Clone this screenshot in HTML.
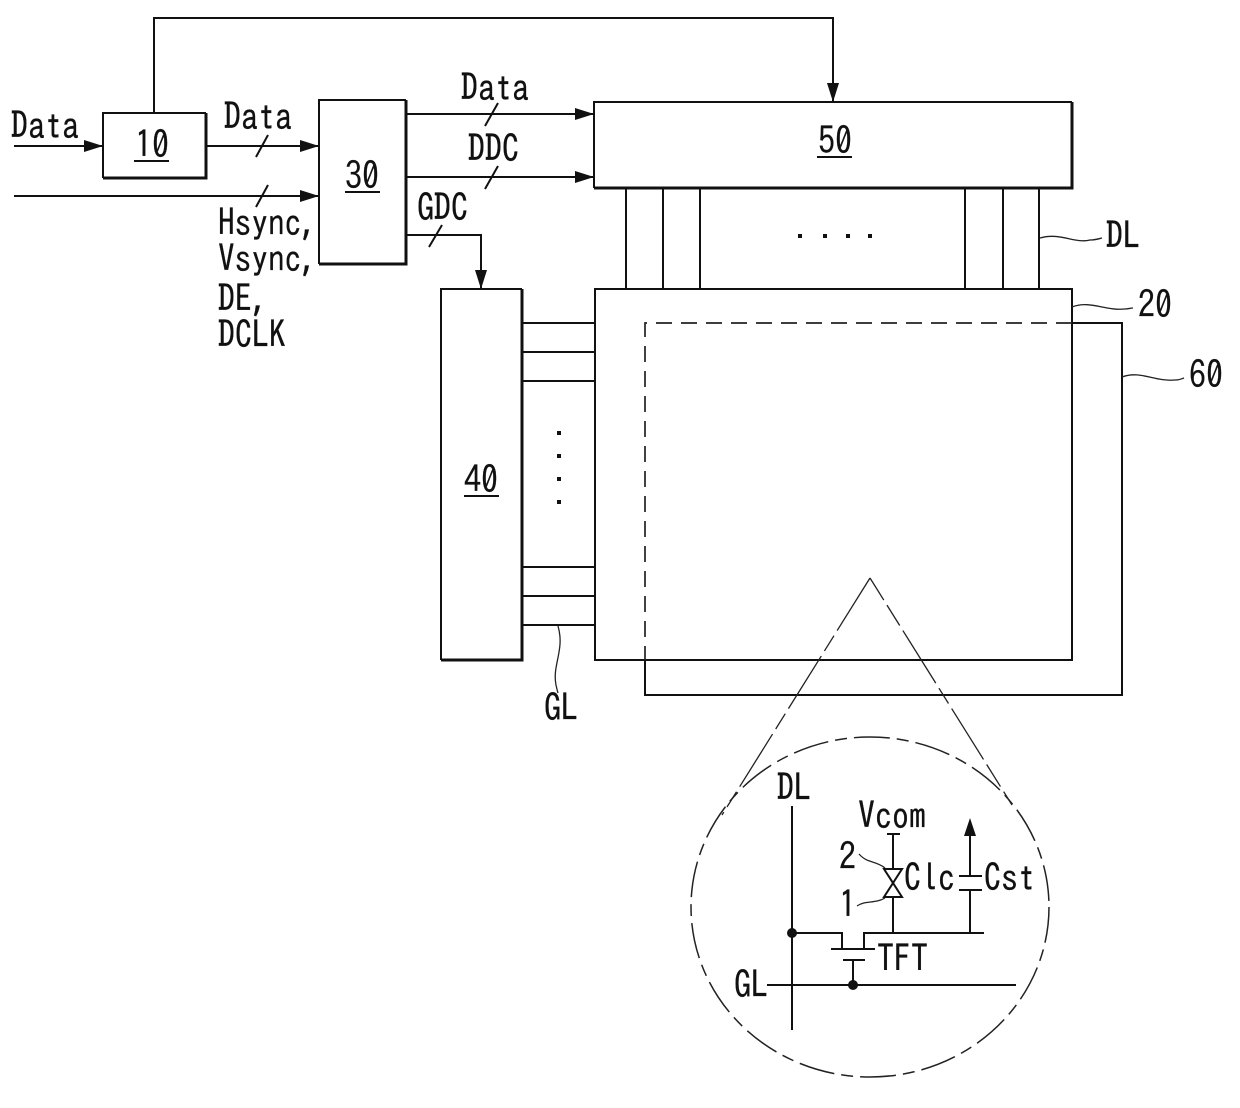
<!DOCTYPE html>
<html><head><meta charset="utf-8"><style>
html,body{margin:0;padding:0;background:#fff}
svg{display:block}
text{font-family:"IPAGothic","Liberation Sans",sans-serif;font-size:34px;fill:#111;stroke:#111;stroke-width:.2}
.l{fill:none;stroke:#111;stroke-width:2}
.d{fill:none;stroke:#222;stroke-width:1.7}
.t{fill:none;stroke:#111;stroke-width:3}
.c{fill:none;stroke:#222;stroke-width:1.3}
</style></head><body>
<svg width="1240" height="1108" viewBox="0 0 1240 1108">
<defs>
<marker id="a" markerUnits="userSpaceOnUse" markerWidth="20" markerHeight="12" refX="19" refY="6" orient="auto"><path d="M0 0L19 6L0 12Z" fill="#111"/></marker>
</defs>
<!-- boxes -->
<path class="l" d="M103 178V113H206"/><path class="t" d="M103 178H206V113"/>
<path class="l" d="M319 264V100H406"/><path class="t" d="M319 264H406V100"/>
<path class="l" d="M594 188V102H1072"/><path class="t" d="M594 188H1072V102"/>
<path class="l" d="M441 660V289H522"/><path class="t" d="M441 660H522V289"/>
<rect class="l" x="595" y="289" width="477" height="371"/>
<!-- 60 -->
<path class="l" d="M1072 323H1122V695H645V660"/>
<path class="d" stroke-dasharray="16 9" d="M1072 323H645V660"/>
<!-- top line -->
<path class="l" marker-end="url(#a)" d="M154 113V18H833V102"/>
<!-- signals -->
<path class="l" marker-end="url(#a)" d="M14 146H103"/>
<path class="l" marker-end="url(#a)" d="M206 146H319"/>
<path class="l" marker-end="url(#a)" d="M14 196H319"/>
<path class="l" marker-end="url(#a)" d="M406 114H594"/>
<path class="l" marker-end="url(#a)" d="M406 177H594"/>
<path class="l" marker-end="url(#a)" d="M406 235H481V289"/>
<path class="l" d="M256 157L268 135M256 207L268 185M485 126L498 103M485 189L498 166M429 247L442 225"/>
<!-- data lines -->
<path class="l" d="M626 188V289M663 188V289M700 188V289M965 188V289M1003 188V289M1039 188V289"/>
<!-- gate lines -->
<path class="l" d="M522 323H595M522 352H595M522 381H595M522 567H595M522 596H595M522 625H595"/>
<!-- dots -->
<g fill="#111">
<rect x="798" y="234" width="4" height="4"/><rect x="823" y="234" width="4" height="4"/><rect x="846" y="234" width="4" height="4"/><rect x="868" y="234" width="4" height="4"/>
<rect x="557" y="431" width="4" height="4"/><rect x="557" y="454" width="4" height="4"/><rect x="557" y="477" width="4" height="4"/><rect x="557" y="500" width="4" height="4"/>
</g>
<!-- leaders -->
<path class="c" d="M1040 238C1060 232 1075 244 1090 240C1095 240 1098 239 1102 238"/>
<path class="c" d="M1072 307C1090 300 1105 311 1125 309C1129 309 1130 308 1133 308"/>
<path class="c" d="M1122 377C1140 370 1155 382 1175 380C1180 380 1181 379 1184 378"/>
<path class="c" d="M558 626C565 650 552 665 556 685C557 689 557 690 558 693"/>
<!-- zoom triangle -->
<path class="c" stroke-dasharray="62 6 18 6" d="M870 578L722 815"/>
<path class="c" stroke-dasharray="26 6 24 6 62 6 18 6 60 6" d="M870 578L1012 805"/>
<!-- circle -->
<ellipse cx="870" cy="907" rx="179" ry="170" fill="none" stroke="#222" stroke-width="1.5" stroke-dasharray="36 7 12 7"/>
<!-- pixel -->
<path class="l" d="M792 806V1030M767 985H1016M792 933H842V949M831 949H875M864 949V933H984M843 960H865M853 960V985"/>
<path class="l" d="M893 933V897M893 869V835M887 834H900"/>
<path class="l" d="M884 869H902L884 897H902Z"/>
<path class="l" d="M970 933V891M970 876V830M959 876H982M959 890H982"/>
<path d="M970 818L964 836H976Z" fill="#111"/>
<circle cx="792" cy="933" r="5" fill="#111"/><circle cx="853" cy="985" r="5" fill="#111"/>
<path class="c" d="M859 854C868 864 875 860 885 868M857 906C866 900 875 904 885 898"/>
<!-- labels -->
<text transform="translate(11 139) scale(1 1.1)">Data</text>
<text transform="translate(224 130) scale(1 1.1)">Data</text>
<text transform="translate(461 101) scale(1 1.1)">Data</text>
<text transform="translate(468 162) scale(1 1.1)">DDC</text>
<text transform="translate(417 221) scale(1 1.1)">GDC</text>
<text transform="translate(218 236) scale(.98 1.1)">Hsync,</text>
<text transform="translate(218 272) scale(.98 1.1)">Vsync,</text>
<text transform="translate(218 312) scale(1 1.1)">DE,</text>
<text transform="translate(218 348) scale(1 1.1)">DCLK</text>
<text transform="translate(135 158) scale(1 1.1)">10</text><path class="l" d="M134 161H169"/>
<text transform="translate(345 189) scale(1 1.1)">30</text><path class="l" d="M345 192H380"/>
<text transform="translate(818 154) scale(1 1.1)">50</text><path class="l" d="M817 157H852"/>
<text transform="translate(464 493) scale(1 1.1)">40</text><path class="l" d="M464 496H499"/>
<text transform="translate(1106 249) scale(1 1.1)">DL</text>
<text transform="translate(1138 318) scale(1 1.1)">20</text>
<text transform="translate(1189 388) scale(1 1.1)">60</text>
<text transform="translate(544 721) scale(1 1.1)">GL</text>
<text transform="translate(777 801) scale(1 1.1)">DL</text>
<text transform="translate(858 829) scale(1 1.1)">Vcom</text>
<text transform="translate(839 870) scale(1 1.1)">2</text>
<text transform="translate(839 918) scale(1 1.1)">1</text>
<text transform="translate(904 891) scale(1 1.1)">Clc</text>
<text transform="translate(984 891) scale(1 1.1)">Cst</text>
<text transform="translate(877 972) scale(1 1.1)">TFT</text>
<text transform="translate(734 998) scale(1 1.1)">GL</text>
</svg>
</body></html>
